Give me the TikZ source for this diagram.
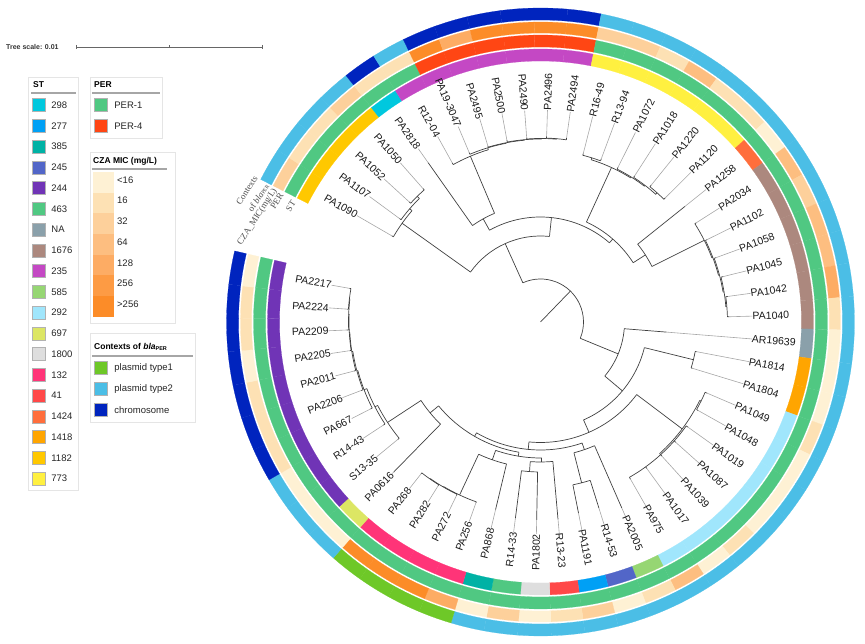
\documentclass[tikz,border=0pt]{standalone}
\usepackage{fontspec}
\setmainfont{Liberation Sans}
\newfontfamily\ringfont{Liberation Serif}
\usetikzlibrary{positioning}

% ST colours
\definecolor{stA}{RGB}{0,200,222}   % 298
\definecolor{stB}{RGB}{0,160,245}   % 277
\definecolor{stC}{RGB}{0,178,165}   % 385
\definecolor{stD}{RGB}{82,102,200}  % 245
\definecolor{stE}{RGB}{112,52,182}  % 244
\definecolor{stF}{RGB}{80,200,130}  % 463
\definecolor{stG}{RGB}{138,160,170} % NA
\definecolor{stH}{RGB}{172,136,126} % 1676
\definecolor{stI}{RGB}{196,72,196}  % 235
\definecolor{stJ}{RGB}{150,214,115} % 585
\definecolor{stK}{RGB}{160,230,252} % 292
\definecolor{stL}{RGB}{220,230,100} % 697
\definecolor{stM}{RGB}{222,222,222} % 1800
\definecolor{stN}{RGB}{255,52,120}  % 132
\definecolor{stO}{RGB}{255,72,72}   % 41
\definecolor{stP}{RGB}{255,110,60}  % 1424
\definecolor{stQ}{RGB}{255,165,0}   % 1418
\definecolor{stR}{RGB}{255,200,0}   % 1182
\definecolor{stS}{RGB}{255,240,64}  % 773
% PER colours
\definecolor{perA}{RGB}{80,200,130}
\definecolor{perB}{RGB}{255,70,20}
% CZA MIC colours
\definecolor{micA}{RGB}{254,241,212}
\definecolor{micB}{RGB}{253,225,180}
\definecolor{micC}{RGB}{253,208,155}
\definecolor{micD}{RGB}{253,190,128}
\definecolor{micE}{RGB}{253,172,100}
\definecolor{micF}{RGB}{253,155,68}
\definecolor{micG}{RGB}{252,140,40}
% contexts colours
\definecolor{ctxA}{RGB}{110,200,40}
\definecolor{ctxB}{RGB}{75,190,230}
\definecolor{ctxC}{RGB}{0,36,190}

\tikzset{
  leaflabel/.style={font=\fontsize{10.5}{12}\selectfont, inner sep=0pt, text=black!90},
  ringlabel/.style={font=\ringfont\fontsize{9}{14}\selectfont, inner sep=0pt, text=black!70, align=center, rotate=57, anchor=east},
  legtitle/.style={font=\fontsize{8.5}{10}\selectfont\bfseries, anchor=west, inner sep=0pt},
  legtext/.style={font=\fontsize{9.5}{11}\selectfont, anchor=west, inner sep=0pt, text=black!85},
  legsq/.style={draw=black!30, minimum size=13pt, inner sep=0pt},
  legbox/.style={draw=black!10, fill=white, line width=0.8pt},
  legrule/.style={draw=black!35, line width=1.2pt},
  branch/.style={draw=black!75, line width=0.7pt},
  tipline/.style={draw=black!35, line width=0.6pt},
}

% one ring segment: colour, leaf index, inner radius, outer radius
\newcommand\ringseg[4]{%
  \pgfmathsetmacro\segA{153-6.18*(#2-1)}%
  \pgfmathsetmacro\segB{\segA-6.18}%
  \fill[#1, draw=#1, line width=0.2pt] (\segA:#3) arc[start angle=\segA, end angle=\segB, radius=#3]
    -- (\segB:#4) arc[start angle=\segB, end angle=\segA, radius=#4] -- cycle;}

\begin{document}
\begin{tikzpicture}[x=1pt, y=1pt]
\useasboundingbox (0,0) rectangle (865,644);

% tree scale
\node[font=\fontsize{7}{8}\selectfont\bfseries, anchor=west, inner sep=0pt, text=black!80] (scaletxt) at (6,597) {Tree scale: 0.01};
\coordinate (scaleA) at (76,597);
\coordinate (scaleB) at (262,597);
\draw[black!60, line width=0.6pt] (scaleA) -- (scaleB);
\draw[black!60, line width=0.6pt] (scaleA) ++(0,2) -- ++(0,-4);
\draw[black!60, line width=0.6pt] (scaleB) ++(0,2) -- ++(0,-4);
\draw[black!60, line width=0.4pt] (169,597) ++(0,1.5) -- ++(0,-3);

% legend: ST
\draw[legbox] (28,154) rectangle (78,567);
\node[legtitle] (stTitle) at (33,559) {ST};
\draw[legrule] (31,551) -- (76,551);
\foreach \c/\t [count=\k] in {stA/298,stB/277,stC/385,stD/245,stE/244,stF/463,stG/NA,stH/1676,stI/235,stJ/585,stK/292,stL/697,stM/1800,stN/132,stO/41,stP/1424,stQ/1418,stR/1182,stS/773}{
  \node[legsq, fill=\c] (stsq\k) at (38.5,{539-20.75*(\k-1)}) {};
  \node[legtext, right=6pt of stsq\k] {\t};
}

% legend: PER
\draw[legbox] (90,506) rectangle (162,567);
\node[legtitle] (perTitle) at (94,559) {PER};
\draw[legrule] (92,551) -- (160,551);
\node[legsq, fill=perA] (persqA) at (100.5,539) {};
\node[legtext, right=7pt of persqA] {PER-1};
\node[legsq, fill=perB] (persqB) at (100.5,518) {};
\node[legtext, right=7pt of persqB] {PER-4};

% legend: CZA MIC
\draw[legbox] (90,321) rectangle (175,492);
\node[legtitle] (micTitle) at (93,483) {CZA MIC (mg/L)};
\draw[legrule] (92,475) -- (167,475);
\foreach \c/\t [count=\k] in {micA/{<16},micB/16,micC/32,micD/64,micE/128,micF/256,micG/{>256}}{
  \fill[\c] (93,{472-20.7*(\k-1)}) rectangle (114,{472-20.7*\k});
  \node[legtext, anchor=west] (mic\k) at (117,{464-20.7*(\k-1)}) {\t};
}

% legend: contexts
\draw[legbox] (90,222) rectangle (195,311);
\node[legtitle] (ctxTitle) at (94,297) {Contexts of \textit{bla}\textsubscript{\fontsize{5.5}{6}\selectfont PER}};
\draw[legrule] (92,288) -- (193,288);
\node[legsq, fill=ctxA] (ctxsqA) at (100.5,276) {};
\node[legtext, right=7pt of ctxsqA] {plasmid type1};
\node[legsq, fill=ctxB] (ctxsqB) at (100.5,255) {};
\node[legtext, right=7pt of ctxsqB] {plasmid type2};
\node[legsq, fill=ctxC] (ctxsqC) at (100.5,234) {};
\node[legtext, right=7pt of ctxsqC] {chromosome};

\begin{scope}[shift={(540.5,322)}]
% rings, leaf branches and leaf labels
% index/name/ST/PER/MIC/context/parent radius/tip radius
\foreach \i/\nm/\st/\per/\mic/\ctx/\lpr/\ltr in {
 1/PA1090/stR/perA/micC/ctxB/170/172, 2/PA1107/stR/perA/micB/ctxB/173/175,
 3/PA1052/stR/perA/micB/ctxB/176/178, 4/PA1050/stR/perA/micC/ctxB/176/178,
 5/PA2818/stA/perA/micB/ctxC/118/195, 6/R12-04/stI/perA/micB/ctxB/180/182,
 7/PA19-3047/stI/perB/micG/ctxC/182/184, 8/PA2495/stI/perB/micE/ctxC/182.5/184,
 9/PA2500/stI/perB/micG/ctxC/183/185, 10/PA2490/stI/perB/micG/ctxC/183.5/185,
 11/PA2496/stI/perB/micG/ctxC/184/186, 12/PA2494/stI/perB/micG/ctxC/184/186,
 13/R16-49/stS/perA/micC/ctxB/172/174, 14/R13-94/stS/perA/micC/ctxB/172/174,
 15/PA1072/stS/perA/micB/ctxB/171/173, 16/PA1018/stS/perA/micD/ctxB/172/174,
 17/PA1220/stS/perA/micB/ctxB/174/176, 18/PA1120/stS/perA/micB/ctxB/174/176,
 19/PA1258/stP/perA/micA/ctxB/124.5/185, 20/PA2034/stH/perA/micD/ctxB/183/185,
 21/PA1102/stH/perA/micC/ctxB/184/186, 22/PA1058/stH/perA/micD/ctxB/185/187,
 23/PA1045/stH/perA/micD/ctxB/186/188, 24/PA1042/stH/perA/micE/ctxB/187/189,
 25/PA1040/stH/perA/micB/ctxB/187/189, 26/AR19639/stG/perA/micA/ctxB/84/126.5,
 27/PA1814/stQ/perA/micA/ctxB/157.5/159, 28/PA1804/stQ/perA/micA/ctxB/157.5/159,
 29/PA1049/stK/perA/micB/ctxB/179/181, 30/PA1048/stK/perA/micA/ctxB/179/181,
 31/PA1019/stK/perA/micA/ctxB/179/181, 32/PA1087/stK/perA/micA/ctxB/179/181,
 33/PA1039/stK/perA/micB/ctxB/179/181, 34/PA1017/stK/perA/micA/ctxB/179/181,
 35/PA975/stK/perA/micD/ctxB/179/181, 36/PA2005/stJ/perA/micB/ctxB/135/203,
 37/R14-53/stD/perA/micA/ctxB/166/195, 38/PA1191/stB/perA/micC/ctxB/166/195,
 39/R13-23/stO/perA/micB/ctxB/140/198, 40/PA1802/stM/perA/micA/ctxB/150/198,
 41/R14-33/stF/perA/micC/ctxB/150/198, 42/PA868/stC/perA/micA/ctxB/146/193,
 43/PA256/stN/perA/micE/ctxA/191/192, 44/PA272/stN/perA/micG/ctxA/191.5/193,
 45/PA282/stN/perA/micG/ctxA/192/193, 46/PA268/stN/perA/micG/ctxA/192/193,
 47/PA0616/stL/perA/micA/ctxB/143/210, 48/S13-35/stE/perA/micA/ctxB/183/185,
 49/R14-43/stE/perA/micA/ctxB/186/188, 50/PA667/stE/perA/micB/ctxC/189/191,
 51/PA2206/stE/perA/micB/ctxC/190/192, 52/PA2011/stE/perA/micB/ctxC/191/193,
 53/PA2205/stE/perA/micA/ctxC/191.5/193, 54/PA2209/stE/perA/micB/ctxC/192/194,
 55/PA2224/stE/perA/micB/ctxC/192.5/194, 56/PA2217/stE/perA/micA/ctxC/192.5/194}{
  \ringseg{\st}{\i}{261}{273}
  \ringseg{\per}{\i}{275}{287}
  \ringseg{\mic}{\i}{289}{300}
  \ringseg{\ctx}{\i}{302}{314}
  \pgfmathsetmacro\ang{156.09-6.18*\i}
  \coordinate (base\i) at (\ang:\lpr);
  \coordinate (end\i) at (\ang:\ltr);
  \coordinate (tip\i) at (\ang:212);
  \draw[branch] (base\i) -- (end\i);
  \draw[tipline] (end\i) -- (tip\i);
  \pgfmathparse{cos(\ang)>0 ? 1 : 0}
  \ifnum\pgfmathresult=1
    \node[leaflabel, anchor=west, rotate=\ang] (leaf\i) at (tip\i) {\nm};
  \else
    \node[leaflabel, anchor=east, rotate=\ang+180] (leaf\i) at (tip\i) {\nm};
  \fi
}

% internal nodes: name/angle/parent radius/radius/arc from/arc to
\foreach \nd/\ang/\rp/\nr/\arcA/\arcB in {
 root/45.97/0/43/114.26/-22.33,
 nA/114.26/43/86/144.50/84.01,
 nA1/144.50/86/170/149.91/139.10, nA1b/139.10/170/173/143.73/134.46,
 nA1c/134.46/173/176/137.55/131.37,
 nA2/84.01/86/105/119.06/48.96,
 nF/119.06/105/118/125.19/112.93,
 nT/112.93/118/180/119.01/106.85, nT2/106.85/180/182/112.83/100.86,
 nT3/100.86/182/182.5/106.65/95.06, nT4/95.06/182.5/183/100.47/89.66,
 nT5/89.66/183/183.5/94.29/85.02, nT6/85.02/183.5/184/88.11/81.93,
 nE/48.96/105/110/65.32/32.59,
 nB/65.32/110/170/72.66/57.98, nB1/72.66/170/172/75.75/69.57,
 nB2/57.98/170/171/63.39/52.58, nB3/52.58/171/172/57.21/47.94,
 nB4/47.94/172/174/51.03/44.85,
 nD/32.59/110/124.5/38.67/26.50,
 nC/26.50/124.5/183/32.49/20.52, nC2/20.52/183/184/26.31/14.72,
 nC3/14.72/184/185/20.13/9.32, nC4/9.32/185/186/13.95/4.68,
 nC5/4.68/186/187/7.77/1.59,
 nG/-22.33/43/84/-4.59/-40.07,
 nG2/-40.07/84/107/-13.86/-66.27,
 nH/-13.86/107/157.5/-10.77/-16.95,
 nL/-66.27/107/120.5/-37.04/-95.5,
 nI/-37.04/120.5/177.5/-26.22/-47.85,
 nI1/-26.22/177.5/179/-23.13/-29.31, nI2/-47.85/177.5/179/-35.49/-60.21,
 nM/-95.5/120.5/128/-71.03/-119.98,
 nK/-71.03/128/135/-66.39/-75.66,
 nV/-75.66/135/166/-72.57/-78.75,
 nN/-119.98/128/132/-99.42/-140.54,
 nS/-99.42/132/136/-89.57/-109.27,
 nU/-89.57/136/140/-84.93/-94.2, nU1/-94.2/140/150/-91.11/-97.29,
 nW/-109.27/136/146/-103.47/-115.06,
 nP1/-115.06/146/191/-109.65/-120.47, nP2/-120.47/191/191.5/-115.83/-125.1,
 nP3/-125.1/191.5/192/-122.01/-128.19,
 nR/-140.54/132/143/-134.37/-146.71,
 nO/-146.71/143/183/-140.55/-152.87,
 nPn/-152.87/183/186/-146.73/-159.0,
 nQ/-159.0/186/189/-152.91/-165.08, nQ2/-165.08/189/190/-159.09/-171.07,
 nQ3/-171.07/190/191/-165.27/-176.86, nQ4/-176.86/191/191.5/-171.45/-182.27,
 nQ5/-182.27/191.5/192/-177.63/-186.90, nQ6/-186.90/192/192.5/-183.81/-189.99}{
  \coordinate (\nd-base) at (\ang:\rp);
  \coordinate (\nd) at (\ang:\nr);
  \draw[branch] (\nd-base) -- (\nd);
  \draw[branch] (\arcA:\nr) arc[start angle=\arcA, end angle=\arcB, radius=\nr];
}

% ring names in the gap
\node[ringlabel] (ringST) at (-246.7,120.4) {ST};
\node[ringlabel] (ringPER) at (-258.9,128.3) {PER};
\node[ringlabel] (ringMIC) at (-265.3,132.5) {CZA\_MIC(mg/L)};
\node[ringlabel] (ringCTX) at (-279,141.4) {Contexts\\of \textit{bla}{\fontsize{5.5}{6}\selectfont PER}};
\end{scope}
\end{tikzpicture}
\end{document}
